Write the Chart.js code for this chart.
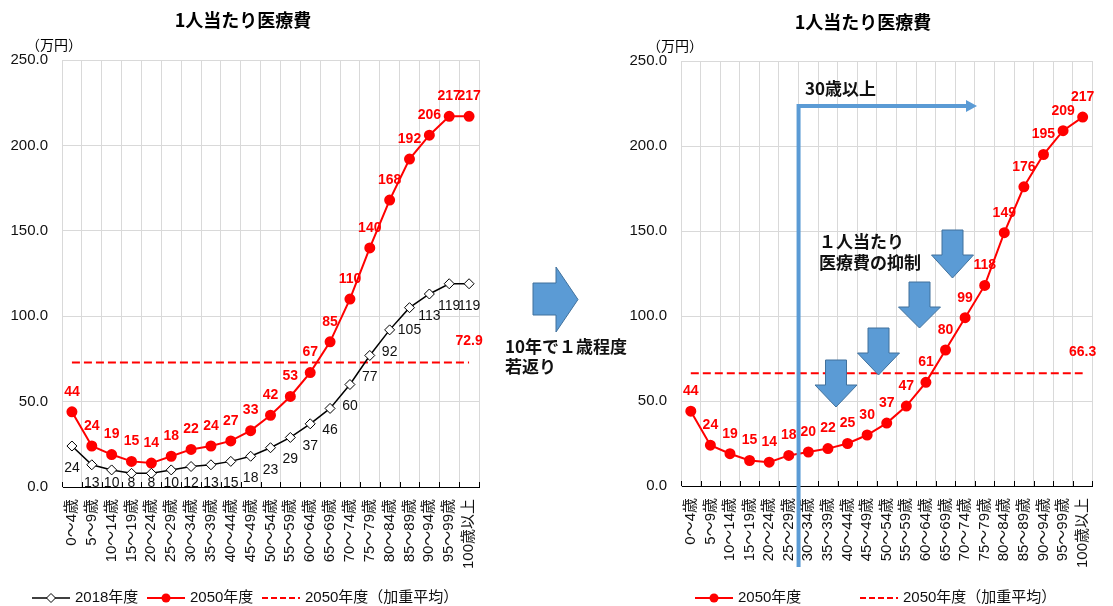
<!DOCTYPE html>
<html>
<head>
<meta charset="utf-8">
<script src="https://cdn.jsdelivr.net/npm/chart.js@4.4.1/dist/chart.umd.min.js"></script>
<style>
body { margin:0; background:#fff; width:1113px; height:606px; overflow:hidden; position:relative; }
#c1 { position:absolute; left:0; top:0; }
#c2 { position:absolute; left:556px; top:0; }
#mid { position:absolute; left:0; top:0; }
#midText { position:absolute; left:505px; top:336px; font:bold 17px 'Noto Sans CJK JP', sans-serif; line-height:20px; color:#111; white-space:nowrap; }
</style>
</head>
<body>
<canvas id="c1" width="556" height="606"></canvas>
<canvas id="c2" width="557" height="606"></canvas>
<svg id="mid" width="1113" height="606">
  <polygon points="533,283 556,283 556,267 578,299.5 556,332 556,315 533,315" fill="#5B9BD5" stroke="#41719C" stroke-width="1"/>
</svg>
<div id="midText">10年で１歳程度<br>若返り</div>
<script>
// data
var ageLabels = ['0～4歳','5～9歳','10～14歳','15～19歳','20～24歳','25～29歳','30～34歳','35～39歳','40～44歳','45～49歳','50～54歳','55～59歳','60～64歳','65～69歳','70～74歳','75～79歳','80～84歳','85～89歳','90～94歳','95～99歳','100歳以上'];
var cost2018 = [24,13,10,8,8,10,12,13,15,18,23,29,37,46,60,77,92,105,113,119,119];
var cost2050 = [44,24,19,15,14,18,22,24,27,33,42,53,67,85,110,140,168,192,206,217,217];
var cost2050Young = [44,24,19,15,14,18,20,22,25,30,37,47,61,80,99,118,149,176,195,209,217];
var avg2050 = 72.9;
var avg2050Young = 66.3;
var yMin = 0, yMax = 250, yStep = 50;

var FONT = "'Liberation Sans', 'Noto Sans CJK JP', sans-serif";
var JP = "'Noto Sans CJK JP', sans-serif";
var RED = '#FF0000';
var BLUE = '#5B9BD5';

// value labels above / below the points
var valueLabels = {
	id: 'valueLabels',
	afterDatasetsDraw: function(chart) {
		var ctx = chart.ctx, a = chart.chartArea;
		ctx.save();
		ctx.beginPath();
		ctx.rect(a.left - 60, 0, a.right - a.left + 120, a.bottom);
		ctx.clip();
		chart.data.datasets.forEach(function(ds, i) {
			var lab = ds.valueLabel;
			if (!lab) return;
			var meta = chart.getDatasetMeta(i);
			ctx.font = lab.font;
			ctx.fillStyle = lab.color;
			ctx.textAlign = 'center';
			ctx.textBaseline = 'middle';
			meta.data.forEach(function(pt, j) {
				if (lab.lastOnly && j !== meta.data.length - 1) return;
				var v = ds.data[j];
				var y = pt.y + lab.dy;
				if (lab.dy > 0) y = Math.min(y, a.bottom - 4);
				ctx.fillText(lab.decimals ? v.toFixed(lab.decimals) : String(v), pt.x, y);
			});
		});
		ctx.restore();
	},
	afterDraw: function(chart) {
		// short inner tick marks on the category axis
		var ctx = chart.ctx, a = chart.chartArea, xs = chart.scales.x;
		var n = chart.data.labels.length;
		ctx.save();
		ctx.strokeStyle = '#000';
		ctx.lineWidth = 1;
		for (var i = 0; i <= n; i++) {
			var x = i === 0 ? a.left : i === n ? a.right : (xs.getPixelForValue(i - 1) + xs.getPixelForValue(i)) / 2;
			x = Math.round(x) + 0.5;
			ctx.beginPath();
			ctx.moveTo(x, a.bottom - 5);
			ctx.lineTo(x, a.bottom);
			ctx.stroke();
		}
		ctx.restore();
	}
};

function legendItem(ctx, type, x0, y, text) {
	ctx.save();
	ctx.lineWidth = type === 'diamond' ? 1.5 : 2;
	ctx.strokeStyle = type === 'diamond' ? '#000' : RED;
	if (type === 'dash') ctx.setLineDash([6, 3]);
	ctx.beginPath();
	ctx.moveTo(x0, y);
	ctx.lineTo(x0 + 38, y);
	ctx.stroke();
	ctx.setLineDash([]);
	var mx = x0 + 19;
	if (type === 'diamond') {
		ctx.fillStyle = '#fff';
		ctx.lineWidth = 1;
		ctx.beginPath();
		ctx.moveTo(mx, y - 4.5); ctx.lineTo(mx + 4.5, y); ctx.lineTo(mx, y + 4.5); ctx.lineTo(mx - 4.5, y);
		ctx.closePath(); ctx.fill(); ctx.stroke();
	} else if (type === 'dot') {
		ctx.fillStyle = RED;
		ctx.beginPath(); ctx.arc(mx, y, 4.5, 0, Math.PI * 2); ctx.fill();
	}
	ctx.fillStyle = '#111';
	ctx.font = '15px ' + FONT;
	ctx.textAlign = 'left';
	ctx.textBaseline = 'middle';
	ctx.fillText(text, x0 + 43, y);
	ctx.restore();
}

function headerText(ctx, title, tx, ty, ux, uy) {
	ctx.save();
	ctx.fillStyle = '#000';
	ctx.textBaseline = 'middle';
	ctx.textAlign = 'center';
	ctx.font = 'bold 18px ' + JP;
	ctx.fillText(title, tx, ty);
	ctx.textAlign = 'left';
	ctx.font = '14px ' + JP;
	ctx.fillText('（万円）', ux, uy);
	ctx.restore();
}

function downArrow(ctx, cx, top, headTop, tip) {
	ctx.beginPath();
	ctx.moveTo(cx - 10.5, top);
	ctx.lineTo(cx + 10.5, top);
	ctx.lineTo(cx + 10.5, headTop);
	ctx.lineTo(cx + 21, headTop);
	ctx.lineTo(cx, tip);
	ctx.lineTo(cx - 21, headTop);
	ctx.lineTo(cx - 10.5, headTop);
	ctx.closePath();
	ctx.fillStyle = BLUE;
	ctx.fill();
	ctx.strokeStyle = '#41719C';
	ctx.lineWidth = 1;
	ctx.stroke();
}

function makeOptions(pad, bottom) {
	return {
		responsive: false,
		animation: false,
		layout: { padding: pad },
		plugins: { legend: { display: false }, tooltip: { enabled: false } },
		elements: { line: { tension: 0 } },
		scales: {
			x: {
				type: 'category',
				offset: true,
				grid: { offset: true, color: '#d9d9d9', drawTicks: false },
				border: { color: '#000', width: 1 },
				ticks: { autoSkip: false, minRotation: 90, maxRotation: 90, padding: 12, color: '#111', font: { size: 15, family: FONT } },
				afterFit: function(s) { s.height = 606 - bottom; }
			},
			y: {
				min: yMin, max: yMax,
				grid: { color: '#d9d9d9', drawTicks: false },
				border: { color: '#d9d9d9' },
				ticks: { stepSize: yStep, padding: 14, color: '#111', font: { size: 15, family: FONT },
					callback: function(v) { return v.toFixed(1); } },
				afterFit: function(s) { s.width = 62; }
			}
		}
	};
}

function avgLine(v) {
	return ageLabels.map(function() { return v; });
}

var redLabel = { font: 'bold 14px ' + FONT, color: RED, dy: -20 };

// left chart
new Chart(document.getElementById('c1'), {
	type: 'line',
	data: {
		labels: ageLabels,
		datasets: [
			{ label: '2018年度', data: cost2018, borderColor: '#000', borderWidth: 1.5,
				pointStyle: 'rectRot', pointRadius: 5, pointBackgroundColor: '#fff', pointBorderColor: '#000', pointBorderWidth: 1,
				valueLabel: { font: '14px ' + FONT, color: '#111', dy: 22 } },
			{ label: '2050年度', data: cost2050, borderColor: RED, borderWidth: 2,
				pointStyle: 'circle', pointRadius: 4.5, pointBackgroundColor: RED, pointBorderColor: RED,
				valueLabel: redLabel },
			{ label: '2050年度（加重平均）', data: avgLine(avg2050), borderColor: RED, borderWidth: 2, borderDash: [8, 4], pointRadius: 0,
				valueLabel: { font: 'bold 14px ' + FONT, color: RED, dy: -21, lastOnly: true, decimals: 1 } }
		]
	},
	options: makeOptions({ left: 0, top: 60, right: 77, bottom: 0 }, 487),
	plugins: [valueLabels, {
		id: 'leftDecor',
		afterDraw: function(chart) {
			var ctx = chart.ctx;
			headerText(ctx, '1人当たり医療費', 243, 20, 26, 45);
			legendItem(ctx, 'diamond', 32, 598, '2018年度');
			legendItem(ctx, 'dot', 147, 598, '2050年度');
			legendItem(ctx, 'dash', 262, 598, '2050年度（加重平均）');
		}
	}]
});

// right chart
new Chart(document.getElementById('c2'), {
	type: 'line',
	data: {
		labels: ageLabels,
		datasets: [
			{ label: '2050年度', data: cost2050Young, borderColor: RED, borderWidth: 2,
				pointStyle: 'circle', pointRadius: 4.5, pointBackgroundColor: RED, pointBorderColor: RED,
				valueLabel: redLabel },
			{ label: '2050年度（加重平均）', data: avgLine(avg2050Young), borderColor: RED, borderWidth: 2, borderDash: [8, 4], pointRadius: 0,
				valueLabel: { font: 'bold 14px ' + FONT, color: RED, dy: -21, lastOnly: true, decimals: 1 } }
		]
	},
	options: makeOptions({ left: 63, top: 61, right: 14, bottom: 0 }, 486),
	plugins: [valueLabels, {
		id: 'rightDecor',
		afterDraw: function(chart) {
			var ctx = chart.ctx, xs = chart.scales.x;
			headerText(ctx, '1人当たり医療費', 307, 22, 91, 46);
			legendItem(ctx, 'dot', 139, 598, '2050年度');
			legendItem(ctx, 'dash', 304, 598, '2050年度（加重平均）');

			// 30歳以上 bracket
			var bx = (xs.getPixelForValue(5) + xs.getPixelForValue(6)) / 2;
			ctx.save();
			ctx.strokeStyle = BLUE;
			ctx.lineWidth = 4;
			ctx.beginPath();
			ctx.moveTo(bx, 567);
			ctx.lineTo(bx, 106);
			ctx.lineTo(411, 106);
			ctx.stroke();
			ctx.fillStyle = BLUE;
			ctx.beginPath();
			ctx.moveTo(410, 100); ctx.lineTo(421, 106); ctx.lineTo(410, 112);
			ctx.closePath(); ctx.fill();

			downArrow(ctx, 280, 360, 385, 407);
			downArrow(ctx, 322.5, 328, 353, 375);
			downArrow(ctx, 363.5, 282, 307, 328);
			downArrow(ctx, 396.5, 230, 255, 278);

			ctx.fillStyle = '#111';
			ctx.textAlign = 'left';
			ctx.textBaseline = 'middle';
			ctx.font = 'bold 17px ' + JP;
			ctx.fillText('30歳以上', 249, 89);
			ctx.fillText('１人当たり', 263, 242);
			ctx.fillText('医療費の抑制', 263, 263);
			ctx.restore();
		}
	}]
});
</script>
</body>
</html>
